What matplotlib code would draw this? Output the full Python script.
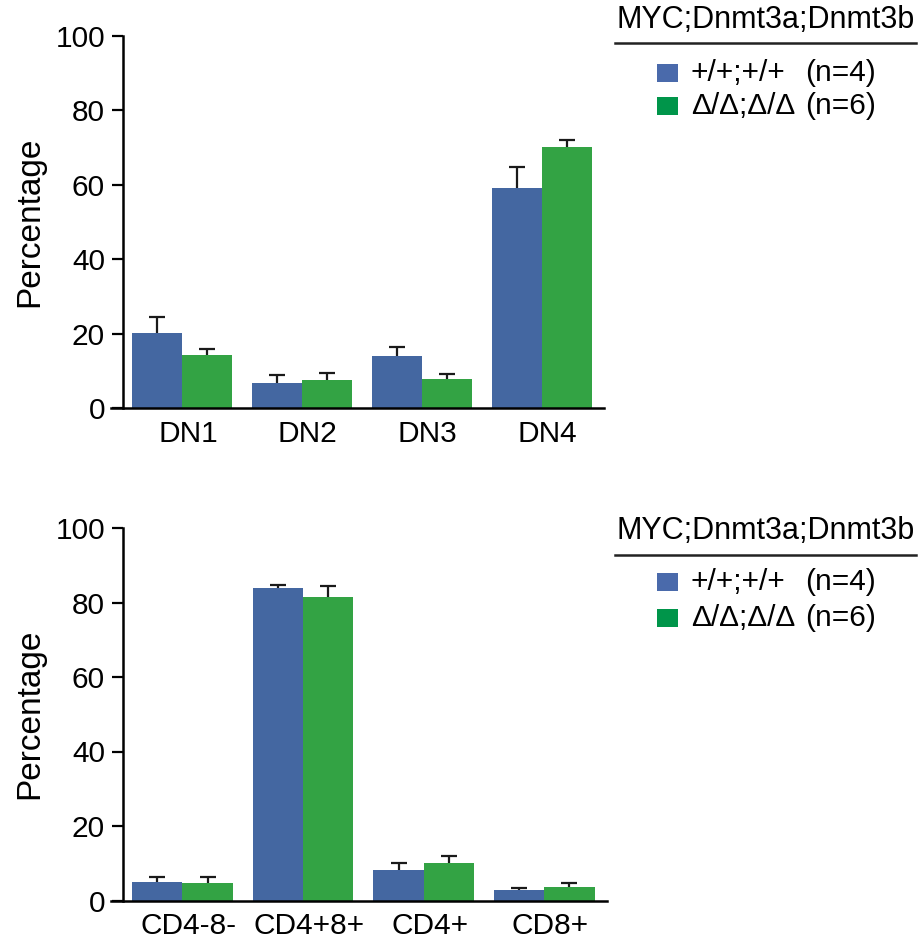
import matplotlib
matplotlib.use('Agg')
import matplotlib.pyplot as plt
import matplotlib.transforms as mtransforms
from matplotlib.patches import Rectangle
from matplotlib.lines import Line2D
import numpy as np

plt.rcParams['font.family'] = ['Liberation Sans', 'DejaVu Sans']

# data
dn_groups = ['DN1', 'DN2', 'DN3', 'DN4']
dn_wt = [20.2, 6.6, 14.0, 59.2]
dn_wt_err = [4.2, 2.2, 2.5, 5.7]
dn_ko = [14.2, 7.5, 7.9, 70.2]
dn_ko_err = [1.6, 2.0, 1.2, 1.8]

cd_groups = ['CD4-8-', 'CD4+8+', 'CD4+', 'CD8+']
cd_wt = [5.0, 84.0, 8.3, 2.8]
cd_wt_err = [1.4, 0.8, 1.7, 0.5]
cd_ko = [4.8, 81.5, 10.0, 3.7]
cd_ko_err = [1.5, 3.0, 2.0, 1.1]

key_title = 'MYC;Dnmt3a;Dnmt3b'
key_labels = ['+/+;+/+', 'Δ/Δ;Δ/Δ']
key_n = ['(n=4)', '(n=6)']
yticks = [0, 20, 40, 60, 80, 100]

blue = '#4467A1'
green = '#33A344'
key_colors = ['#4A6AAB', '#00954A']

W, H = 920, 943
fig = plt.figure(figsize=(W / 100, H / 100), dpi=100)
fs = 21.5


def px(x, y):
    # pixel (from top-left) -> figure fraction
    return x / W, 1 - y / H


def upper_err(ax, x, y, err):
    # only the upper half of the error bar, no cap at the bar top
    _, caps, _ = ax.errorbar(x, y, yerr=[np.zeros(len(y)), err], fmt='none',
                             ecolor='#1a1a1a', elinewidth=1.6, capsize=6, capthick=1.6)
    caps[0].set_visible(False)


def panel(rect, groups, wt, wt_err, ko, ko_err, pad):
    ax = fig.add_axes(rect)
    x = np.arange(len(groups))
    bw = 0.417
    ax.bar(x - bw / 2, wt, bw, color=blue, edgecolor='none')
    ax.bar(x + bw / 2, ko, bw, color=green, edgecolor='none')
    upper_err(ax, x - bw / 2, wt, wt_err)
    upper_err(ax, x + bw / 2, ko, ko_err)
    ax.set_xlim(-0.592, 3.52)
    ax.set_ylim(0, 100)
    ax.set_yticks(yticks)
    ax.set_xticks(x)
    ax.set_xticklabels(groups, fontsize=fs)
    ax.tick_params(axis='x', length=0, pad=pad)
    ax.tick_params(axis='y', labelsize=fs, length=8, width=1.6, pad=5)
    # labels sit a little right of the group centre in the original
    shift = mtransforms.ScaledTranslation(0.06, 0, fig.dpi_scale_trans)
    for lbl in ax.get_xticklabels():
        lbl.set_transform(lbl.get_transform() + shift)
    ax.spines['top'].set_visible(False)
    ax.spines['right'].set_visible(False)
    ax.spines['left'].set_position(('data', -0.492))
    ax.spines['left'].set_linewidth(1.8)
    ax.spines['bottom'].set_linewidth(1.8)
    ax.set_facecolor('none')
    return ax


def key(y_title, y_line, y_rows):
    fig.text(*px(617, y_title), key_title, fontsize=22, va='center', ha='left')
    x0, y0 = px(615, y_line)
    x1, _ = px(916, y_line)
    fig.add_artist(Line2D([x0, x1], [y0, y0], transform=fig.transFigure,
                          color='#222222', lw=1.8))
    for yr, lab, n, c in zip(y_rows, key_labels, key_n, key_colors):
        sx, sy = px(657, yr + 9)
        fig.add_artist(Rectangle((sx, sy), 21 / W, 18 / H, transform=fig.transFigure,
                                 facecolor=c, edgecolor='none'))
        fig.text(*px(691, yr), lab, fontsize=fs, va='center', ha='left')
        fig.text(*px(805, yr), n, fontsize=fs, va='center', ha='left')


top_rect = [111 / W, 1 - 408 / H, (604 - 111) / W, 372 / H]
bot_rect = [111 / W, 1 - 900.5 / H, (607 - 111) / W, 372.5 / H]

ax1 = panel(top_rect, dn_groups, dn_wt, dn_wt_err, dn_ko, dn_ko_err, 9)
ax2 = panel(bot_rect, cd_groups, cd_wt, cd_wt_err, cd_ko, cd_ko_err, 8)

fig.text(*px(30, 222), 'Percentage', fontsize=24, rotation=90, va='center', ha='center')
fig.text(*px(30, 714), 'Percentage', fontsize=24, rotation=90, va='center', ha='center')

key(20, 43, [73, 106])
key(531, 555, [582, 618])

fig.savefig('out.png', dpi=100)
